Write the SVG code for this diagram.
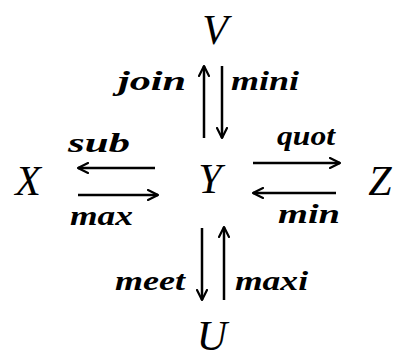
<svg xmlns="http://www.w3.org/2000/svg" width="398" height="360" viewBox="0 0 398 360">
<defs>
<marker id="ah" viewBox="0 0 12 12" refX="11" refY="6" markerWidth="12" markerHeight="12" markerUnits="userSpaceOnUse" orient="auto">
<polyline points="1,1 11,6 1,11" fill="none" stroke="#000" stroke-width="2.2" stroke-linecap="round" stroke-linejoin="round"/>
</marker>
<style>
.obj{font-family:"Liberation Serif","DejaVu Serif",serif;font-style:italic;font-size:42px;fill:#000;text-anchor:middle}
.lbl{font-family:"Liberation Serif","DejaVu Serif",serif;font-style:italic;font-weight:bold;font-size:28px;fill:#000}
.arr{stroke:#000;stroke-width:2.5;fill:none;marker-end:url(#ah)}
</style>
</defs>
<rect width="398" height="360" fill="#fff"/>
<g id="V"><text class="obj" x="215" y="44">V</text></g>
<g id="Y"><text class="obj" x="210" y="193">Y</text></g>
<g id="X"><text class="obj" x="28" y="195">X</text></g>
<g id="Z"><text class="obj" x="380" y="195">Z</text></g>
<g id="U"><text class="obj" x="212" y="350">U</text></g>
<g id="connectors">
<line class="arr" x1="204" y1="138" x2="204" y2="66"/>
<line class="arr" x1="222" y1="66" x2="222" y2="138"/>
<line class="arr" x1="155" y1="168" x2="78" y2="168"/>
<line class="arr" x1="253" y1="163" x2="340" y2="163"/>
<line class="arr" x1="78" y1="195" x2="158" y2="195"/>
<line class="arr" x1="336" y1="193" x2="253" y2="193"/>
<line class="arr" x1="202" y1="228" x2="202" y2="300"/>
<line class="arr" x1="224" y1="300" x2="224" y2="227"/>
</g>
<g id="labels">
<text class="lbl" x="118" y="90" textLength="68" lengthAdjust="spacingAndGlyphs">join</text>
<text class="lbl" x="231" y="90" textLength="68" lengthAdjust="spacingAndGlyphs">mini</text>
<text class="lbl" x="68" y="152" textLength="62" lengthAdjust="spacingAndGlyphs">sub</text>
<text class="lbl" x="277" y="145" textLength="58" lengthAdjust="spacingAndGlyphs">quot</text>
<text class="lbl" x="70" y="225" textLength="63" lengthAdjust="spacingAndGlyphs">max</text>
<text class="lbl" x="278" y="223" textLength="62" lengthAdjust="spacingAndGlyphs">min</text>
<text class="lbl" x="115" y="290" textLength="70" lengthAdjust="spacingAndGlyphs">meet</text>
<text class="lbl" x="235" y="290" textLength="73" lengthAdjust="spacingAndGlyphs">maxi</text>
</g>
</svg>
